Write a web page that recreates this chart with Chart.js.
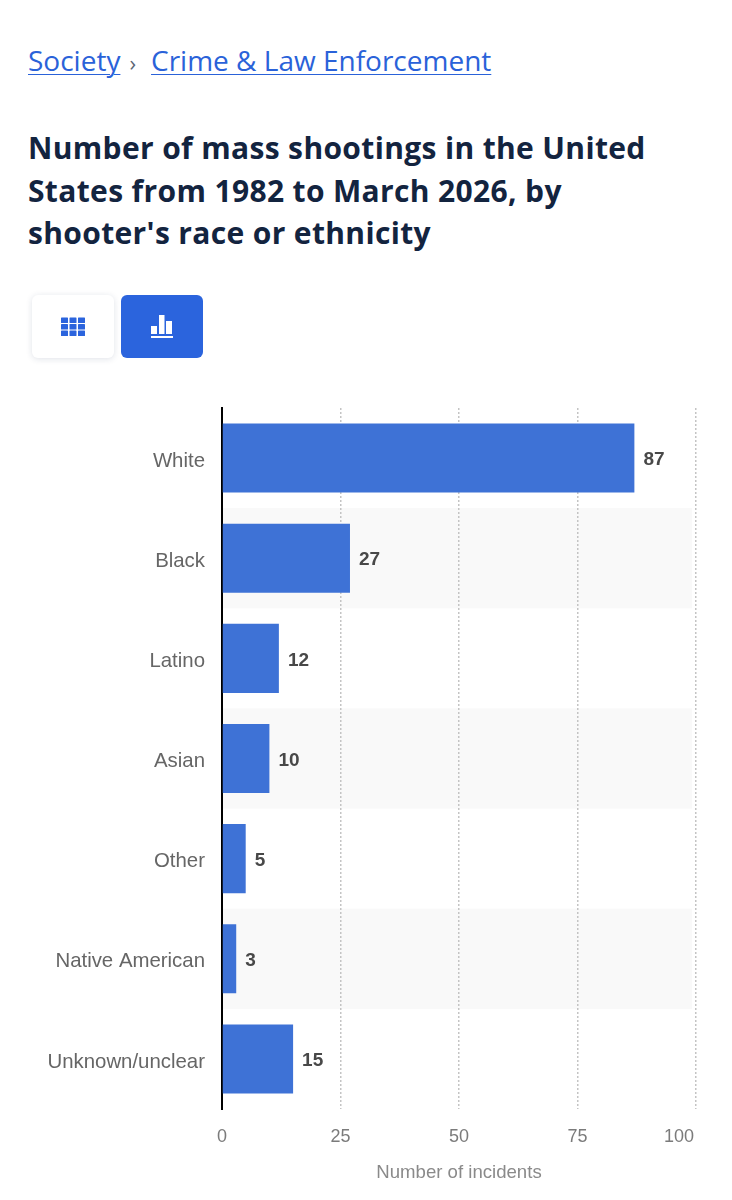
<!DOCTYPE html>
<html>
<head>
<meta charset="utf-8">
<title>Mass shootings by race or ethnicity</title>
<script src="https://cdn.jsdelivr.net/npm/chart.js@4"></script>
<style>
  html, body { margin: 0; padding: 0; background: #fff; }
  body { width: 732px; height: 1200px; position: relative; overflow: hidden; font-family: "Open Sans", sans-serif; }
  .crumbs { position: absolute; left: 28px; top: 40px; font-size: 28px; line-height: 40px; color: #2a62d9; white-space: nowrap; }
  .crumbs a { color: #2a62d9; text-decoration: underline; text-decoration-thickness: 1px; text-underline-offset: 3px; }
  .crumbs .sep { color: #5b6675; font-size: 22px; margin: 0 15px 0 9px; }
  h1 { position: absolute; left: 28px; top: 127px; width: 670px; margin: 0; font-size: 30px; line-height: 42.5px; font-weight: 700; color: #13243f; letter-spacing: 0.35px; }
  .btn { position: absolute; top: 295px; width: 82px; height: 63px; border-radius: 6px; display: flex; align-items: center; justify-content: center; box-sizing: border-box; }
  .btn.table { left: 32px; background: #fff; box-shadow: 0 1px 6px rgba(30, 50, 90, 0.14); }
  .btn.bars { left: 121px; background: #2b64dd; }
  #chartWrap { position: absolute; left: 0; top: 400px; width: 732px; height: 800px; }
</style>
</head>
<body>
<div class="crumbs"><a href="#">Society</a><span class="sep">›</span><a href="#">Crime &amp; Law Enforcement</a></div>
<h1>Number of mass shootings in the United States from 1982 to March 2026, by shooter's race or ethnicity</h1>
<div class="btn table">
  <svg width="24" height="20" viewBox="0 0 24 20" fill="#2b64dd">
    <rect x="0" y="0.5" width="7" height="5.5" rx="0.6"/><rect x="8.5" y="0.5" width="7" height="5.5" rx="0.6"/><rect x="17" y="0.5" width="7" height="5.5" rx="0.6"/>
    <rect x="0" y="7" width="7" height="5.5" rx="0.6"/><rect x="8.5" y="7" width="7" height="5.5" rx="0.6"/><rect x="17" y="7" width="7" height="5.5" rx="0.6"/>
    <rect x="0" y="13.5" width="7" height="5.5" rx="0.6"/><rect x="8.5" y="13.5" width="7" height="5.5" rx="0.6"/><rect x="17" y="13.5" width="7" height="5.5" rx="0.6"/>
  </svg>
</div>
<div class="btn bars">
  <svg width="24" height="26" viewBox="0 0 24 26" fill="#fff">
    <rect x="1" y="12" width="6" height="8"/><rect x="9" y="1" width="5.5" height="19"/><rect x="16" y="7" width="6" height="13"/>
    <rect x="1" y="22" width="22" height="2"/>
  </svg>
</div>
<div id="chartWrap"><canvas id="chart" width="732" height="800"></canvas></div>

<script>
const categories = ['White', 'Black', 'Latino', 'Asian', 'Other', 'Native American', 'Unknown/unclear'];
const incidents = [87, 27, 12, 10, 5, 3, 15];
const xTickValues = [0, 25, 50, 75, 100];
const xAxisTitle = 'Number of incidents';

const FONT = '"Liberation Sans", Arial, sans-serif';

// light stripes behind every second row
const rowBands = {
  id: 'rowBands',
  beforeDraw(chart) {
    const { ctx, scales: { x, y } } = chart;
    const rowH = y.getPixelForValue(1) - y.getPixelForValue(0);
    ctx.save();
    ctx.fillStyle = '#f9f9f9';
    categories.forEach((c, i) => {
      if (i % 2 === 1) {
        ctx.fillRect(x.left, y.getPixelForValue(i) - rowH / 2, x.width - 4, rowH);
      }
    });
    ctx.restore();

    // the last x label sits inside the plot edge
    const items = x.getLabelItems(chart.chartArea);
    const last = items[items.length - 1];
    last.options.textAlign = 'right';
    last.options.translation = [last.options.translation[0] - 2, last.options.translation[1]];
  }
};

// numbers at the bar ends
const valueLabels = {
  id: 'valueLabels',
  afterDatasetsDraw(chart) {
    const { ctx } = chart;
    ctx.save();
    ctx.font = 'bold 19px ' + FONT;
    ctx.fillStyle = '#484848';
    ctx.textBaseline = 'middle';
    chart.getDatasetMeta(0).data.forEach((bar, i) => {
      ctx.fillText(String(incidents[i]), bar.x + 9, bar.y + 2);
    });
    ctx.restore();
  }
};

new Chart(document.getElementById('chart'), {
  type: 'bar',
  data: {
    labels: categories,
    datasets: [{
      data: incidents,
      backgroundColor: '#3e72d6',
      categoryPercentage: 1,
      barPercentage: 0.69
    }]
  },
  plugins: [rowBands, valueLabels],
  options: {
    indexAxis: 'y',
    responsive: false,
    animation: false,
    layout: { padding: { top: 8, right: 36, left: 0, bottom: 0 } },
    plugins: { legend: { display: false }, tooltip: { enabled: false } },
    scales: {
      x: {
        min: 0,
        max: 100,
        afterBuildTicks(axis) { axis.ticks = xTickValues.map(v => ({ value: v })); },
        afterFit(axis) { axis.height = 91; },
        grid: { color: '#c4c4c4', lineWidth: 1.5, drawTicks: false },
        border: { display: false, dash: [2, 2] },
        ticks: { color: '#7b7b7b', font: { family: FONT, size: 18 }, padding: 17, maxRotation: 0 },
        title: { display: true, text: xAxisTitle, color: '#8a8a8a', font: { family: FONT, size: 18.6 }, padding: { top: 0, bottom: 16 } }
      },
      y: {
        afterFit(axis) { axis.width = 222; axis.paddingTop = 0; axis.paddingBottom = 0; },
        grid: { display: false, drawTicks: false },
        border: { color: '#000', width: 2 },
        ticks: { color: '#666', font: { family: FONT, size: 20.4 }, padding: 17, labelOffset: 3 }
      }
    }
  }
});
</script>
</body>
</html>
